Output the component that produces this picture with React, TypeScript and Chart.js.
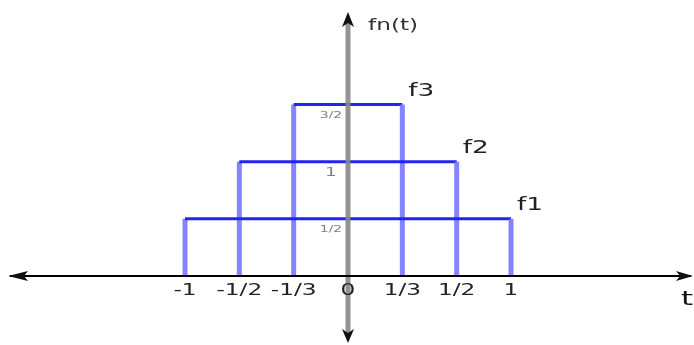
import React, { useEffect, useRef } from 'react';
import { Chart, registerables } from 'chart.js';

Chart.register(...registerables);

// Tick labels along the t axis (schematic, evenly spaced as in the figure)
const tLabels = ['-1', '-1/2', '-1/3', '0', '1/3', '1/2', '1'];
// Series: rectangular pulses fn(t)
const seriesNames = ['f1', 'f2', 'f3'];
const seriesFrom = ['-1', '-1/2', '-1/3'];
const seriesTo = ['1', '1/2', '1/3'];
const seriesHeights = [0.5, 1, 1.5];
const heightLabels = ['1/2', '1', '3/2'];
const yAxisTitle = 'fn(t)';
const xAxisTitle = 't';

const pos = (label: string) => tLabels.indexOf(label) - tLabels.indexOf('0');

const TOP_COLOR = '#2323ee';
const SIDE_COLOR = 'rgba(110,110,255,0.85)';
const SX = 1.55;

function stretchText(
  ctx: CanvasRenderingContext2D,
  text: string,
  x: number,
  y: number,
  size: number,
  color: string,
  align: CanvasTextAlign = 'center',
) {
  ctx.save();
  ctx.font = `${size}px "DejaVu Sans", sans-serif`;
  ctx.fillStyle = color;
  ctx.textAlign = align;
  ctx.textBaseline = 'middle';
  ctx.translate(x, y);
  ctx.scale(SX, 1);
  ctx.fillText(text, 0, 0);
  ctx.restore();
}

const axesPlugin = {
  id: 'axesPlugin',
  afterDatasetsDraw(chart: any) {
    const ctx: CanvasRenderingContext2D = chart.ctx;
    const xs = chart.scales.x;
    const ys = chart.scales.y;
    const area = chart.chartArea;
    const x0 = xs.getPixelForValue(0);
    const y0 = ys.getPixelForValue(0);

    ctx.save();
    // vertical (gray) axis
    ctx.strokeStyle = 'rgba(135,135,135,0.9)';
    ctx.lineWidth = 5;
    ctx.beginPath();
    ctx.moveTo(x0, area.top + 22);
    ctx.lineTo(x0, area.bottom - 10);
    ctx.stroke();

    // horizontal axis
    ctx.strokeStyle = '#000';
    ctx.lineWidth = 2;
    ctx.beginPath();
    ctx.moveTo(area.left + 10, y0);
    ctx.lineTo(area.right - 3, y0);
    ctx.stroke();

    ctx.fillStyle = '#111';
    const L = area.left + 8;
    const R = area.right - 1;
    // left arrow
    ctx.beginPath();
    ctx.moveTo(L, y0);
    ctx.lineTo(L + 20, y0 - 5);
    ctx.lineTo(L + 16, y0);
    ctx.lineTo(L + 20, y0 + 5);
    ctx.closePath();
    ctx.fill();
    // right arrow
    ctx.beginPath();
    ctx.moveTo(R, y0);
    ctx.lineTo(R - 17, y0 - 5);
    ctx.lineTo(R - 13, y0);
    ctx.lineTo(R - 17, y0 + 5);
    ctx.closePath();
    ctx.fill();
    // top arrow
    const T = area.top + 12;
    ctx.beginPath();
    ctx.moveTo(x0, T);
    ctx.lineTo(x0 - 6, T + 15);
    ctx.lineTo(x0, T + 11);
    ctx.lineTo(x0 + 6, T + 15);
    ctx.closePath();
    ctx.fill();
    // bottom arrow
    const B = area.bottom - 2;
    ctx.beginPath();
    ctx.moveTo(x0, B);
    ctx.lineTo(x0 - 6, B - 14);
    ctx.lineTo(x0, B - 10);
    ctx.lineTo(x0 + 6, B - 14);
    ctx.closePath();
    ctx.fill();
    ctx.restore();

    // tick labels on t axis
    tLabels.forEach((lab) => {
      stretchText(ctx, lab, xs.getPixelForValue(pos(lab)), y0 + 15, 15, '#222');
    });

    // level labels next to the vertical axis
    heightLabels.forEach((lab, i) => {
      const frac = lab.includes('/');
      stretchText(
        ctx,
        lab,
        x0 - 17,
        ys.getPixelForValue(seriesHeights[i]) + 11,
        frac ? 9 : 12,
        '#808080',
      );
    });

    // series names
    seriesNames.forEach((name, i) => {
      stretchText(
        ctx,
        name,
        xs.getPixelForValue(pos(seriesTo[i])) + 6,
        ys.getPixelForValue(seriesHeights[i]) - 13,
        17,
        '#222',
        'left',
      );
    });

    // axis titles
    stretchText(ctx, yAxisTitle, x0 + 20, area.top + 26, 15, '#333', 'left');
    stretchText(ctx, xAxisTitle, area.right - 7, y0 + 24, 20, '#111');
  },
};

export default function App() {
  const ref = useRef<HTMLCanvasElement | null>(null);

  useEffect(() => {
    if (!ref.current) return;
    const datasets = seriesNames.map((name, i) => {
      const a = pos(seriesFrom[i]);
      const b = pos(seriesTo[i]);
      const h = seriesHeights[i];
      return {
        label: name,
        data: [
          { x: a, y: 0 },
          { x: a, y: h },
          { x: b, y: h },
          { x: b, y: 0 },
        ],
        showLine: true,
        fill: false,
        pointRadius: 0,
        borderColor: SIDE_COLOR,
        borderWidth: 5,
        borderCapStyle: 'butt' as const,
        tension: 0,
        segment: {
          borderColor: (c: any) => (c.p0.parsed.y === c.p1.parsed.y ? TOP_COLOR : SIDE_COLOR),
          borderWidth: (c: any) => (c.p0.parsed.y === c.p1.parsed.y ? 3 : 5),
        },
      };
    });

    const chart = new Chart(ref.current, {
      type: 'scatter',
      data: { datasets },
      options: {
        animation: false,
        responsive: false,
        maintainAspectRatio: false,
        devicePixelRatio: 1,
        layout: { padding: 0 },
        plugins: { legend: { display: false }, tooltip: { enabled: false } },
        scales: {
          x: { type: 'linear', min: -6.405, max: 6.368, display: false },
          y: { type: 'linear', min: -0.604, max: 2.415, display: false },
        },
      },
      plugins: [axesPlugin],
    });
    return () => chart.destroy();
  }, []);

  return (
    <div style={{ position: 'fixed', left: 0, top: 0, width: 694, height: 345, background: '#fff' }}>
      <canvas ref={ref} width={694} height={345} />
    </div>
  );
}
